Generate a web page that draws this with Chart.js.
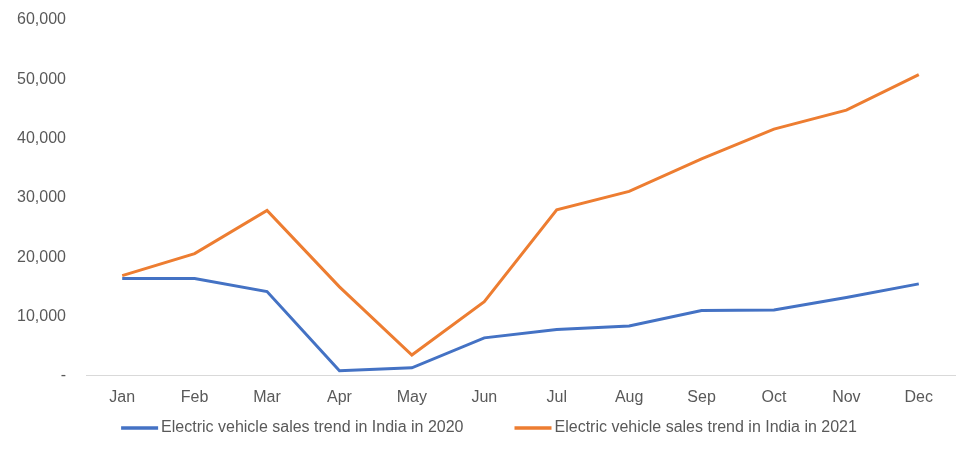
<!DOCTYPE html>
<html>
<head>
<meta charset="utf-8">
<script src="https://cdn.jsdelivr.net/npm/chart.js@4"></script>
<style>
  html, body { margin: 0; padding: 0; background: #fff; }
  #wrap { width: 966px; height: 463px; }
</style>
</head>
<body>
<div id="wrap"><canvas id="myChart"></canvas></div>
<script>
const months = ["Jan", "Feb", "Mar", "Apr", "May", "Jun", "Jul", "Aug", "Sep", "Oct", "Nov", "Dec"];
const sales2020 = [16400, 16400, 14200, 850, 1350, 6400, 7800, 8400, 11000, 11100, 13200, 15500];
const sales2021 = [16900, 20600, 27900, 15000, 3500, 12500, 28000, 31100, 36600, 41600, 44800, 50800];
const yTicks = [0, 10000, 20000, 30000, 40000, 50000, 60000];

const blue = "#4472C4";
const orange = "#ED7D31";
const grey = "#595959";
const fontFamily = "'Liberation Sans', Arial, sans-serif";

Chart.defaults.font.family = fontFamily;
Chart.defaults.font.size = 16;
Chart.defaults.color = grey;

// excel-like legend: short line sample right against the text, wide gap between items
const bottomLegend = {
  id: "bottomLegend",
  afterDraw(chart) {
    const c = chart.ctx;
    const lineW = 37, gapText = 3, gapItem = 51;
    c.save();
    c.font = "16px " + fontFamily;
    c.textBaseline = "middle";
    const items = chart.data.datasets.map((ds) => ({
      text: ds.label,
      color: ds.borderColor,
      w: c.measureText(ds.label).width,
    }));
    let total = 0;
    items.forEach((it, i) => {
      total += lineW + gapText + it.w + (i > 0 ? gapItem : 0);
    });
    let x = chart.width / 2 + 6 - total / 2;
    const y = 428;
    items.forEach((it) => {
      c.strokeStyle = it.color;
      c.lineWidth = 3.5;
      c.beginPath();
      c.moveTo(x, y);
      c.lineTo(x + lineW, y);
      c.stroke();
      x += lineW + gapText;
      c.fillStyle = grey;
      c.fillText(it.text, x, y);
      x += it.w + gapItem;
    });
    c.restore();
  },
};

const ctx = document.getElementById("myChart");

new Chart(ctx, {
  type: "line",
  data: {
    labels: months,
    datasets: [
      {
        label: "Electric vehicle sales trend in India in 2020",
        data: sales2020,
        borderColor: blue,
        backgroundColor: blue,
        borderWidth: 3,
        pointRadius: 0,
        tension: 0,
      },
      {
        label: "Electric vehicle sales trend in India in 2021",
        data: sales2021,
        borderColor: orange,
        backgroundColor: orange,
        borderWidth: 3,
        pointRadius: 0,
        tension: 0,
      },
    ],
  },
  plugins: [bottomLegend],
  options: {
    responsive: true,
    maintainAspectRatio: false,
    animation: false,
    layout: {
      padding: { top: 20, right: 11, bottom: 44, left: 0 },
    },
    plugins: {
      legend: { display: false },
      tooltip: { enabled: false },
    },
    scales: {
      x: {
        offset: true,
        grid: { display: false, drawTicks: false },
        border: { display: true, color: "#D9D9D9", width: 1 },
        ticks: { padding: 12, color: grey },
      },
      y: {
        min: 0,
        max: 60000,
        afterBuildTicks: function (scale) {
          scale.ticks = yTicks.map(function (v) { return { value: v }; });
        },
        afterFit: function (scale) {
          scale.width = 86;
          scale.paddingTop = 0;
          scale.paddingBottom = 0;
        },
        grid: { display: false, drawTicks: false },
        border: { display: false },
        ticks: {
          padding: 20,
          color: grey,
          callback: function (v) {
            return v === 0 ? "-" : v.toLocaleString("en-US");
          },
        },
      },
    },
  },
});
</script>
</body>
</html>
